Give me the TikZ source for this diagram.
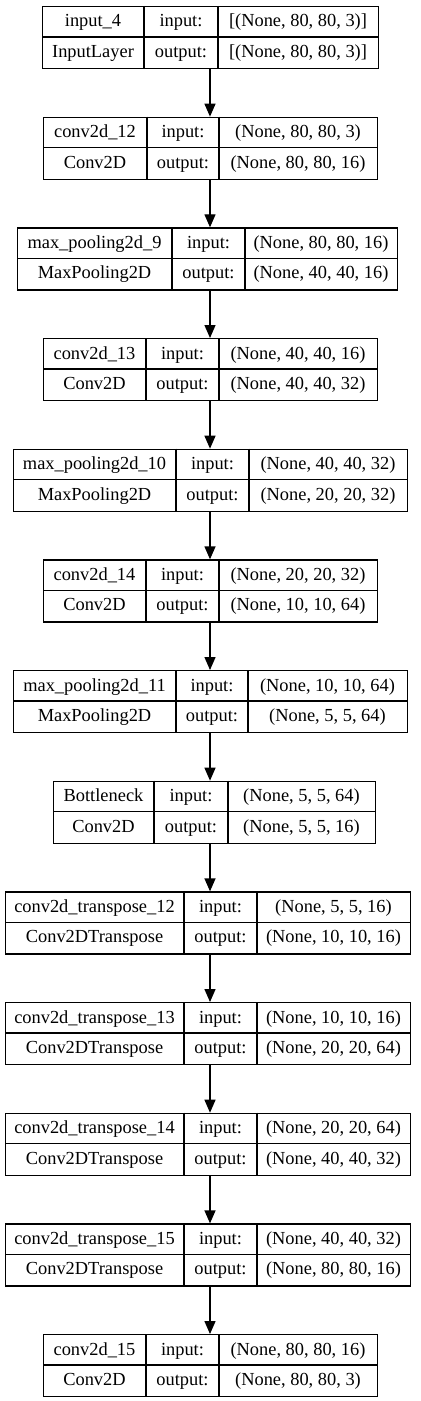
\documentclass[tikz,border=0pt]{standalone}
\usepackage{fontspec}
\setmainfont{Liberation Serif}
\usetikzlibrary{arrows.meta}

\tikzset{
    recbox/.style={draw, line width=0.65pt, minimum height=31pt, inner sep=0pt},
    celltext/.style={anchor=base, inner sep=0pt, font=\fontsize{9.2}{11}\selectfont},
    flow/.style={line width=0.65pt, -{Triangle[length=6.5pt,width=5.5pt]}},
}

% #1 index, #2 left, #3 first divider, #4 second divider, #5 right,
% #6 layer name, #7 layer type, #8 input shape, #9 output shape
\newcommand{\layerbox}[9]{%
    \pgfmathsetmacro{\ytop}{6+110.67*(#1-1)}
    \node[recbox, minimum width={(#5-#2)*0.5pt}, anchor=north west] (l#1) at (#2,\ytop) {};
    \draw[line width=0.65pt]
        (#2,\ytop+31) -- (#5,\ytop+31)
        (#3,\ytop) -- (#3,\ytop+62)
        (#4,\ytop) -- (#4,\ytop+62);
    \node[celltext] (l#1name) at ({(#2+#3)/2},\ytop+21) {#6};
    \node[celltext] (l#1type) at ({(#2+#3)/2},\ytop+51.5) {#7};
    \node[celltext] (l#1inlbl) at ({(#3+#4)/2},\ytop+21) {input:};
    \node[celltext] (l#1outlbl) at ({(#3+#4)/2},\ytop+51.5) {output:};
    \node[celltext] (l#1in) at ({(#4+#5)/2},\ytop+21) {#8};
    \node[celltext] (l#1out) at ({(#4+#5)/2},\ytop+51.5) {#9};
}

\begin{document}
\begin{tikzpicture}[x=0.5pt, y=-0.5pt]
    \useasboundingbox (0,0) rectangle (420,1401);
    \coordinate (ax) at (210,0);

    \layerbox{1}{42}{144}{218}{378}{input\_4}{InputLayer}{[(None, 80, 80, 3)]}{[(None, 80, 80, 3)]}
    \layerbox{2}{43}{147}{219}{377}{conv2d\_12}{Conv2D}{(None, 80, 80, 3)}{(None, 80, 80, 16)}
    \layerbox{3}{17}{172}{245}{397}{max\_pooling2d\_9}{MaxPooling2D}{(None, 80, 80, 16)}{(None, 40, 40, 16)}
    \layerbox{4}{43}{146}{219}{377}{conv2d\_13}{Conv2D}{(None, 40, 40, 16)}{(None, 40, 40, 32)}
    \layerbox{5}{13}{176}{249}{407}{max\_pooling2d\_10}{MaxPooling2D}{(None, 40, 40, 32)}{(None, 20, 20, 32)}
    \layerbox{6}{43}{146}{219}{377}{conv2d\_14}{Conv2D}{(None, 20, 20, 32)}{(None, 10, 10, 64)}
    \layerbox{7}{13}{176}{248}{407}{max\_pooling2d\_11}{MaxPooling2D}{(None, 10, 10, 64)}{(None, 5, 5, 64)}
    \layerbox{8}{53}{154}{228}{375}{Bottleneck}{Conv2D}{(None, 5, 5, 64)}{(None, 5, 5, 16)}
    \layerbox{9}{5}{184}{257}{410}{conv2d\_transpose\_12}{Conv2DTranspose}{(None, 5, 5, 16)}{(None, 10, 10, 16)}
    \layerbox{10}{5}{184}{257}{410}{conv2d\_transpose\_13}{Conv2DTranspose}{(None, 10, 10, 16)}{(None, 20, 20, 64)}
    \layerbox{11}{5}{184}{257}{410}{conv2d\_transpose\_14}{Conv2DTranspose}{(None, 20, 20, 64)}{(None, 40, 40, 32)}
    \layerbox{12}{5}{184}{257}{410}{conv2d\_transpose\_15}{Conv2DTranspose}{(None, 40, 40, 32)}{(None, 80, 80, 16)}
    \layerbox{13}{43}{146}{219}{377}{conv2d\_15}{Conv2D}{(None, 80, 80, 16)}{(None, 80, 80, 3)}

    \foreach \i [evaluate=\i as \j using int(\i+1)] in {1,...,12}
        \draw[flow] (l\i.south -| ax) -- (l\j.north -| ax);
\end{tikzpicture}
\end{document}
